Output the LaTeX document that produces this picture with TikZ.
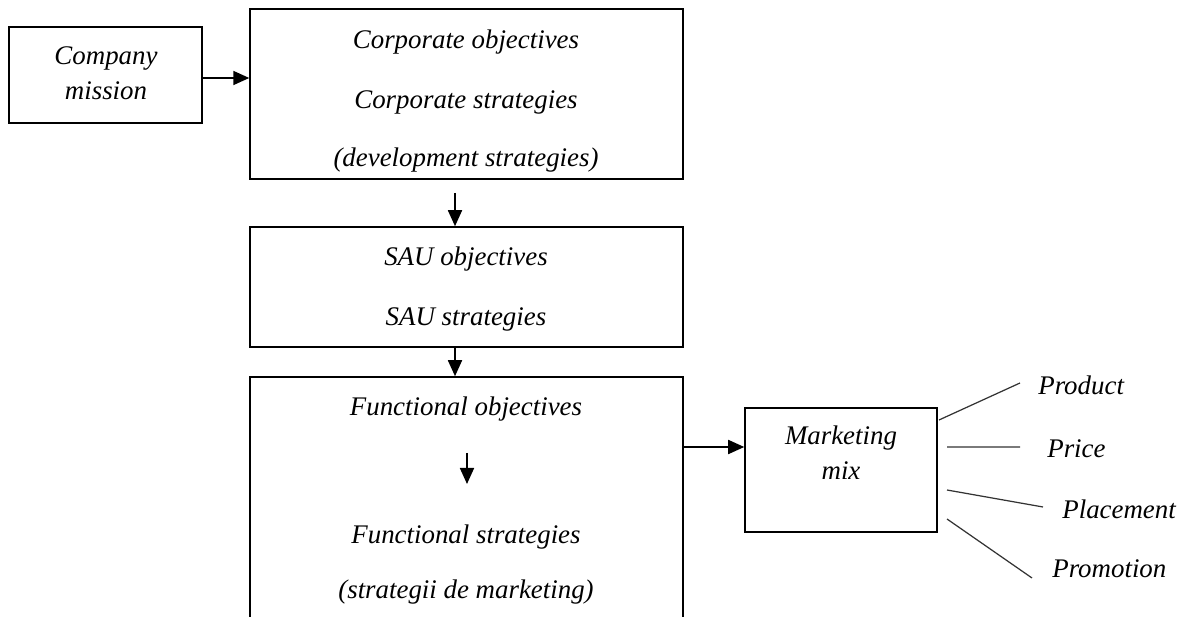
\documentclass[tikz,border=0pt]{standalone}
\usepackage{fontspec}
\setmainfont{Liberation Serif}
\usetikzlibrary{arrows.meta}

\begin{document}
\begin{tikzpicture}[x=0.02cm, y=-0.02cm,
  box/.style={draw, line width=0.9pt, inner sep=0pt},
  txt/.style={font=\fontsize{15.3}{20}\selectfont\itshape, inner sep=1pt, align=center},
  arr/.style={-{Triangle[length=0.32cm, width=0.28cm]}, line width=1pt},
  leg/.style={line width=0.7pt, black!80}]
\useasboundingbox (0,0) rectangle (1184,617);

% boxes
\node[box, minimum width=3.86cm, minimum height=1.92cm] (mission) at (105.5,75) {};
\node[box, minimum width=8.66cm, minimum height=3.40cm] (corp) at (466.5,94) {};
\node[box, minimum width=8.66cm, minimum height=2.40cm] (sau) at (466.5,287) {};
\node[box, minimum width=8.66cm, minimum height=5.66cm] (func) at (466.5,518.5) {};
\node[box, minimum width=3.84cm, minimum height=2.48cm] (mix) at (841,470) {};

% texts
\node[txt] (mission-t) at (106,73) {Company\\mission};
\node[txt] (co-obj) at (466,42) {Corporate objectives};
\node[txt] (co-str) at (466,102) {Corporate strategies};
\node[txt] (co-dev) at (466,160) {(development strategies)};
\node[txt] (sau-obj) at (466,259) {SAU objectives};
\node[txt] (sau-str) at (466,319) {SAU strategies};
\node[txt] (fu-obj) at (466,409) {Functional objectives};
\node[txt] (fu-str) at (466,537) {Functional strategies};
\node[txt] (fu-mkt) at (466,592) {(strategii de marketing)};
\node[txt] (mix-t) at (841,453) {Marketing\\mix};

% mix elements
\node[txt, anchor=west, inner xsep=0.36cm] (prod) at (1020,385) {Product};
\node[txt, anchor=west, inner xsep=0.54cm] (price) at (1020,449) {Price};
\node[txt, anchor=west, inner xsep=0.38cm] (place) at (1043,509) {Placement};
\node[txt, anchor=west, inner xsep=0.40cm] (promo) at (1032,569) {Promotion};

% arrows
\draw[arr] ([yshift=-0.06cm]mission.east) -- ([yshift=-0.06cm]mission.east -| corp.west);
\coordinate (c-s) at (455,193);
\draw[arr] (c-s) -- (c-s |- sau.north);
\draw[arr] ([xshift=-0.23cm]sau.south) -- ([xshift=-0.23cm]func.north);
\coordinate (f1) at (467,453);
\coordinate (f2) at (467,484);
\draw[arr] (f1) -- (f2);
\draw[arr] ([yshift=0.46cm]mix.west -| func.east) -- ([yshift=0.46cm]mix.west);

% lines to the four elements
\coordinate (m1) at (939,420);
\coordinate (m2) at (947,447);
\coordinate (m3) at (947,490);
\coordinate (m4) at (947,519);
\draw[leg] (m1) -- ([yshift=0.04cm]prod.west);
\draw[leg] (m2) -- ([yshift=0.04cm]price.west);
\draw[leg] (m3) -- ([yshift=0.04cm]place.west);
\draw[leg] (m4) -- ([yshift=-0.18cm]promo.west);
\end{tikzpicture}
\end{document}
